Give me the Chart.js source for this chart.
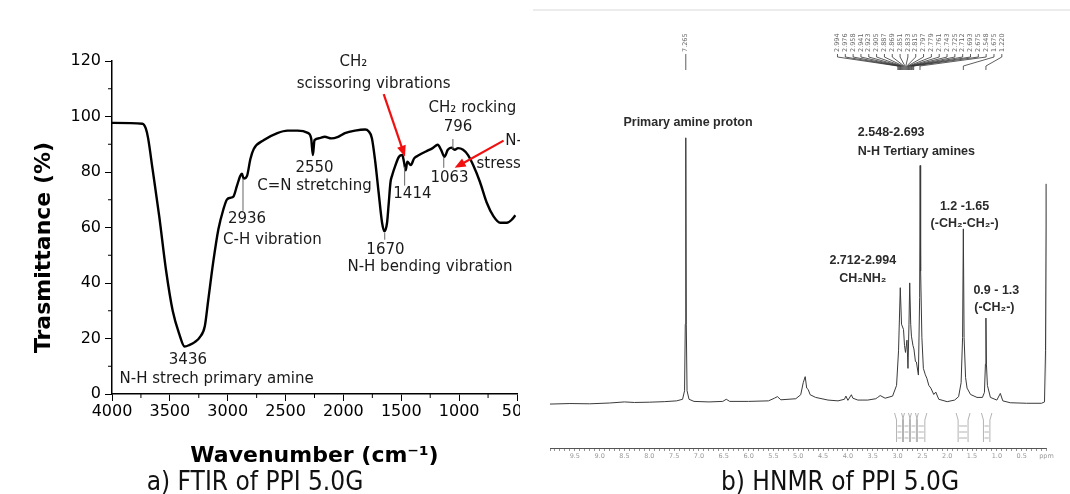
<!DOCTYPE html>
<html>
<head>
<meta charset="utf-8">
<script src="https://cdn.jsdelivr.net/npm/chart.js@4.4.1/dist/chart.umd.min.js"></script>
<style>
  html, body { margin: 0; padding: 0; background: #fff; }
  #page { position: relative; width: 1070px; height: 494px; overflow: hidden; }
  #leftBox { position: absolute; left: 0; top: 0; width: 520px; height: 494px; overflow: hidden; }
  #rightBox { position: absolute; left: 530px; top: 0; width: 540px; height: 494px; }
  #topRule { position: absolute; left: 533px; top: 9px; width: 537px; height: 2px; background: #ececec; }
  .caption { position: absolute; top: 468px; font-family: "Liberation Sans Narrow", "DejaVu Sans Condensed", "Liberation Sans", sans-serif;
             font-size: 26px; line-height: 26px; text-align: center; color: #111; white-space: nowrap; }
</style>
</head>
<body>
<div id="page">
  <div id="leftBox"><canvas id="ftir" width="560" height="494"></canvas></div>
  <div id="topRule"></div>
  <div id="rightBox"><canvas id="hnmr" width="540" height="494"></canvas></div>
  <div class="caption" style="left:0;width:510px;">a) FTIR of PPI 5.0G</div>
  <div class="caption" style="left:640px;width:400px;">b) HNMR of PPI 5.0G</div>
</div>
<script>
// ---- a) FTIR ----
const wavenumbers = [
  4000, 3737, 3708, 3688, 3650, 3592, 3533, 3475, 3417, 3373,
  3329, 3285, 3242, 3198, 3169, 3125, 3081, 3037, 3008, 2979,
  2950, 2921, 2892, 2877, 2862, 2833, 2804, 2775, 2687, 2571,
  2483, 2396, 2308, 2279, 2264, 2250, 2206, 2162, 2104, 2046,
  1987, 1900, 1812, 1783, 1754, 1725, 1696, 1666, 1646, 1623,
  1608, 1593, 1579, 1550, 1520, 1491, 1477, 1462, 1448, 1418,
  1389, 1346, 1287, 1229, 1185, 1156, 1127, 1098, 1068, 1039,
  1010, 966, 923, 879, 820, 762, 704, 645, 587, 543, 514
];
const transmittance = [
  97.7, 97.4, 95.7, 92.2, 81.2, 64.1, 44.6, 29.9, 21.4, 17.1,
  17.7, 18.7, 20.4, 24.4, 33.6, 47.6, 59.3, 66.6, 70.0, 70.7,
  71.2, 74.9, 78.6, 79.4, 77.6, 78.6, 84.7, 88.3, 91.5, 94.0,
  94.9, 94.9, 94.1, 92.2, 86.1, 91.5, 92.2, 92.7, 92.1, 92.7,
  94.0, 94.9, 95.3, 94.7, 92.2, 83.7, 72.7, 61.7, 58.6, 61.7,
  69.0, 76.4, 78.8, 82.5, 85.5, 86.1, 83.7, 80.6, 83.7, 82.5,
  84.9, 86.1, 87.4, 88.6, 89.8, 88.0, 85.5, 88.0, 88.8, 88.0,
  88.6, 88.0, 86.1, 82.5, 76.4, 69.0, 64.1, 61.7, 61.7, 62.9, 64.4
];
// annotation text anchored at [wavenumber, transmittance]
const ftirNotes = [
  ['3436', 3344, 12.2],
  ['N-H strech primary amine', 3096, 5.5],
  ['2936', 2833, 62.9],
  ['C-H vibration', 2614, 55.6],
  ['2550', 2250, 81.5],
  ['C=N stretching', 2250, 74.9],
  ['1670', 1637, 51.9],
  ['N-H bending vibration', 1252, 45.6],
  ['1414', 1404, 72.1],
  ['CH₂', 1914, 119.7],
  ['scissoring vibrations', 1739, 111.8],
  ['CH₂ rocking', 1264, 103.2, 'left'],
  ['796', 1010, 96.2],
  ['1063', 1083, 77.8],
  ['N-', 602, 91.0, 'left'],
  ['stress', 850, 82.7, 'left']
];
// short pointer lines: [wavenumber, from T, to T]
const ftirPointers = [[2868, 77.6, 66.0], [1643, 58.0, 55.6], [1471, 81.9, 75.1], [1054, 91.9, 88.3], [1133, 85.5, 81.5]];
// red arrows: [w1, T1, w2, T2], head at the second point
const ftirArrows = [[1652, 108.1, 1468, 85.5], [616, 91.3, 1039, 81.5]];

// ---- b) 1H NMR ----
const nmrPpm = [
  10.00, 9.60, 9.20, 8.80, 8.50, 8.30, 8.00, 7.70, 7.45, 7.33,
  7.29, 7.275, 7.265, 7.255, 7.24, 7.20, 7.10, 6.80, 6.52, 6.45,
  6.38, 6.00, 5.60, 5.48, 5.42, 5.35, 5.05, 4.95, 4.90, 4.86,
  4.83, 4.80, 4.76, 4.65, 4.40, 4.20, 4.07, 4.04, 4.00, 3.93,
  3.90, 3.80, 3.60, 3.44, 3.40, 3.35, 3.25, 3.10, 3.02, 2.98,
  2.945, 2.92, 2.88, 2.86, 2.84, 2.81, 2.79, 2.77, 2.755, 2.735,
  2.72, 2.69, 2.67, 2.64, 2.62, 2.58, 2.555, 2.545, 2.535, 2.51,
  2.48, 2.44, 2.41, 2.37, 2.33, 2.27, 2.23, 2.17, 2.00, 1.85,
  1.77, 1.72, 1.69, 1.675, 1.66, 1.63, 1.60, 1.53, 1.40, 1.29,
  1.25, 1.23, 1.22, 1.21, 1.19, 1.13, 1.00, 0.93, 0.88, 0.73,
  0.40, 0.10, 0.04, 0.02, 0.005, -0.02
];
const nmrIntensity = [
  0.0, 0.2, 0.1, 0.4, 0.8, 0.6, 0.7, 0.9, 1.2, 1.8,
  5, 30, 100, 30, 5, 1.8, 1.0, 0.8, 1.0, 1.8,
  1.0, 1.0, 1.2, 2.2, 2.8, 1.6, 2.0, 3.5, 8, 10.3,
  6, 5.5, 3.5, 2.5, 1.5, 1.2, 1.8, 3.0, 1.4, 3.5,
  2.2, 1.5, 1.5, 2.0, 2.5, 3.2, 2.2, 3.0, 7, 20,
  43.7, 30, 28, 22, 19.4, 24, 13.4, 30, 45.5, 30,
  25.5, 22, 20.7, 16, 15.8, 10.9, 40, 89.6, 50, 25,
  13.4, 11, 9.7, 7, 6, 3.6, 4.5, 1.8, 0.9, 1.5,
  2.8, 8, 25, 65.8, 25, 10, 6, 3.6, 2.5, 2.5,
  4.4, 15, 32.3, 15, 7, 2.5, 1.5, 4, 1.2, 0.5,
  0.3, 0.3, 0.8, 20, 82.7, 5
];
// peak-pick list printed along the top (first one sits over its own peak)
const peakList = [7.265, 2.994, 2.976, 2.958, 2.941, 2.923, 2.905, 2.887, 2.869, 2.851, 2.833,
  2.815, 2.797, 2.779, 2.761, 2.743, 2.725, 2.712, 2.693, 2.675, 2.548, 1.675, 1.220];
// integration regions [from ppm, to ppm]
const integrals = [[3.02, 2.90], [2.88, 2.76], [2.74, 2.62], [2.60, 2.45], [1.78, 1.58], [1.27, 1.14]];
// bold labels: [text, ppm, intensity, align]
const nmrNotes = [
  ['Primary amine proton', 7.22, 105.6],
  ['2.548-2.693', 3.80, 101.8, 'left'],
  ['N-H Tertiary amines', 3.80, 94.8, 'left'],
  ['1.2 -1.65', 1.65, 74.1],
  ['(-CH₂-CH₂-)', 1.65, 67.7],
  ['2.712-2.994', 3.70, 53.9],
  ['CH₂NH₂', 3.70, 47.1],
  ['0.9 - 1.3', 1.01, 42.6],
  ['(-CH₂-)', 1.05, 36.1]
];

const ftirExtras = {
  id: 'ftirExtras',
  afterDraw(chart) {
    const {ctx, chartArea: a, scales: {x, y}} = chart;
    ctx.save();
    // minor ticks
    ctx.strokeStyle = '#000';
    ctx.lineWidth = 1;
    ctx.beginPath();
    for (let v = 3750; v > 500; v -= 500) {
      const px = x.getPixelForValue(v);
      ctx.moveTo(px, a.bottom); ctx.lineTo(px, a.bottom + 4);
    }
    for (let v = 10; v < 120; v += 20) {
      const py = y.getPixelForValue(v);
      ctx.moveTo(a.left, py); ctx.lineTo(a.left - 4, py);
    }
    ctx.stroke();

    ctx.strokeStyle = '#666';
    ctx.beginPath();
    ftirPointers.forEach(([w, t1, t2]) => {
      const px = x.getPixelForValue(w);
      ctx.moveTo(px, y.getPixelForValue(t1));
      ctx.lineTo(px, y.getPixelForValue(t2));
    });
    ctx.stroke();

    ctx.strokeStyle = '#f01010';
    ctx.fillStyle = '#f01010';
    ctx.lineWidth = 2.2;
    ftirArrows.forEach(([w1, t1, w2, t2]) => {
      const x1 = x.getPixelForValue(w1), y1 = y.getPixelForValue(t1);
      const x2 = x.getPixelForValue(w2), y2 = y.getPixelForValue(t2);
      const c = Math.cos(Math.atan2(y2 - y1, x2 - x1)), s = Math.sin(Math.atan2(y2 - y1, x2 - x1));
      ctx.beginPath();
      ctx.moveTo(x1, y1);
      ctx.lineTo(x2 - 8 * c, y2 - 8 * s);
      ctx.stroke();
      ctx.beginPath();
      ctx.moveTo(x2, y2);
      ctx.lineTo(x2 - 11 * c + 4.5 * s, y2 - 11 * s - 4.5 * c);
      ctx.lineTo(x2 - 11 * c - 4.5 * s, y2 - 11 * s + 4.5 * c);
      ctx.closePath();
      ctx.fill();
    });

    ctx.fillStyle = '#1a1a1a';
    ctx.font = "15px 'DejaVu Sans'";
    ctx.textBaseline = 'middle';
    ftirNotes.forEach(([text, w, t, align]) => {
      ctx.textAlign = align || 'center';
      ctx.fillText(text, x.getPixelForValue(w), y.getPixelForValue(t));
    });

    // axis titles
    ctx.fillStyle = '#000';
    ctx.font = "bold 22px 'DejaVu Sans'";
    ctx.textAlign = 'center';
    ctx.fillText('Wavenumber (cm⁻¹)', (a.left + a.right) / 2, a.bottom + 62);
    ctx.translate(a.left - 68, (a.top + a.bottom) / 2 + 20);
    ctx.rotate(-Math.PI / 2);
    ctx.fillText('Trasmittance (%)', 0, 0);
    ctx.restore();
  }
};

const nmrExtras = {
  id: 'nmrExtras',
  afterDraw(chart) {
    const {ctx, scales: {x, y}} = chart;
    ctx.save();

    // peak list: vertical numbers, fanned lines down to the peaks
    const n = peakList.length - 1;
    const first = x.getPixelForValue(4.21), last = x.getPixelForValue(0.90);
    ctx.font = "6.5px 'DejaVu Sans'";
    ctx.fillStyle = '#666';
    ctx.strokeStyle = '#333';
    ctx.lineWidth = 0.8;
    ctx.textAlign = 'left';
    ctx.textBaseline = 'middle';
    peakList.forEach((p, i) => {
      const px = x.getPixelForValue(p);
      const sx = i === 0 ? px : first + (last - first) * (i - 1) / (n - 1);
      ctx.save();
      ctx.translate(sx, 52);
      ctx.rotate(-Math.PI / 2);
      ctx.fillText(p.toFixed(3), 0, 0);
      ctx.restore();
      ctx.beginPath();
      ctx.moveTo(sx, 54);
      ctx.lineTo(sx, 57);
      ctx.lineTo(px, 66);
      ctx.lineTo(px, 70);
      ctx.stroke();
    });

    // integration marks under the spectrum
    ctx.strokeStyle = '#b3b3b3';
    ctx.lineWidth = 1;
    integrals.forEach(([p1, p2]) => {
      const xl = x.getPixelForValue(p1), xr = x.getPixelForValue(p2);
      ctx.beginPath();
      ctx.moveTo(xl - 2, 413); ctx.lineTo(xl, 420); ctx.lineTo(xl, 442);
      ctx.moveTo(xr + 2, 413); ctx.lineTo(xr, 420); ctx.lineTo(xr, 442);
      [426, 432, 438].forEach(yy => { ctx.moveTo(xl + 1, yy); ctx.lineTo(xr - 1, yy); });
      ctx.stroke();
    });

    // bold assignments
    ctx.fillStyle = '#2b2b2b';
    ctx.font = "bold 12.5px 'Liberation Sans', sans-serif";
    ctx.textBaseline = 'middle';
    nmrNotes.forEach(([text, p, v, align]) => {
      ctx.textAlign = align || 'center';
      ctx.fillText(text, x.getPixelForValue(p), y.getPixelForValue(v));
    });
    ctx.restore();
  }
};

new Chart(document.getElementById('ftir'), {
  type: 'line',
  data: {
    datasets: [{
      data: wavenumbers.map((w, i) => ({x: w, y: transmittance[i]})),
      borderColor: '#000',
      borderWidth: 2.4,
      pointRadius: 0,
      cubicInterpolationMode: 'monotone',
      fill: false
    }]
  },
  options: {
    responsive: false,
    animation: false,
    layout: {padding: {top: 61, right: 43, bottom: 0, left: 0}},
    plugins: {legend: {display: false}, tooltip: {enabled: false}},
    scales: {
      x: {
        type: 'linear', reverse: true, min: 500, max: 4000,
        ticks: {stepSize: 500, maxRotation: 0, padding: 1, color: '#000', font: {family: 'DejaVu Sans', size: 16},
                callback: v => String(v)},
        grid: {drawOnChartArea: false, tickLength: 7, color: '#000'},
        border: {color: '#000', width: 1.5},
        afterFit(s) { s.height = 100; }
      },
      y: {
        min: 0, max: 120,
        ticks: {stepSize: 20, padding: 4, color: '#000', font: {family: 'DejaVu Sans', size: 16}},
        grid: {drawOnChartArea: false, tickLength: 7, color: '#000'},
        border: {color: '#000', width: 1.5},
        afterFit(s) { s.width = 112; }
      }
    }
  },
  plugins: [ftirExtras]
});

new Chart(document.getElementById('hnmr'), {
  type: 'line',
  data: {
    datasets: [{
      data: nmrPpm.map((p, i) => ({x: p, y: nmrIntensity[i]})),
      borderColor: '#3a3a3a',
      borderWidth: 1,
      pointRadius: 0,
      tension: 0,
      fill: false
    }]
  },
  options: {
    responsive: false,
    animation: false,
    layout: {padding: {top: 10, right: 23.5, bottom: 0, left: 20}},
    plugins: {legend: {display: false}, tooltip: {enabled: false}},
    scales: {
      x: {
        type: 'linear', reverse: true, min: 0, max: 10,
        ticks: {
          stepSize: 0.1, autoSkip: false, maxRotation: 0, padding: 1, color: '#999',
          font: {family: 'DejaVu Sans', size: 6.5},
          callback(v) {
            if (Math.abs(v) < 1e-9) return 'ppm';
            const h = v * 2;
            if (Math.abs(h - Math.round(h)) < 1e-6 && v < 9.99) return v.toFixed(1);
            return '';
          }
        },
        grid: {drawOnChartArea: false, tickLength: 3, color: '#777', lineWidth: 0.8},
        border: {color: '#555', width: 1},
        afterFit(s) { s.height = 46; }
      },
      y: {display: false, min: -16.5, max: 148}
    }
  },
  plugins: [nmrExtras]
});
</script>
</body>
</html>
